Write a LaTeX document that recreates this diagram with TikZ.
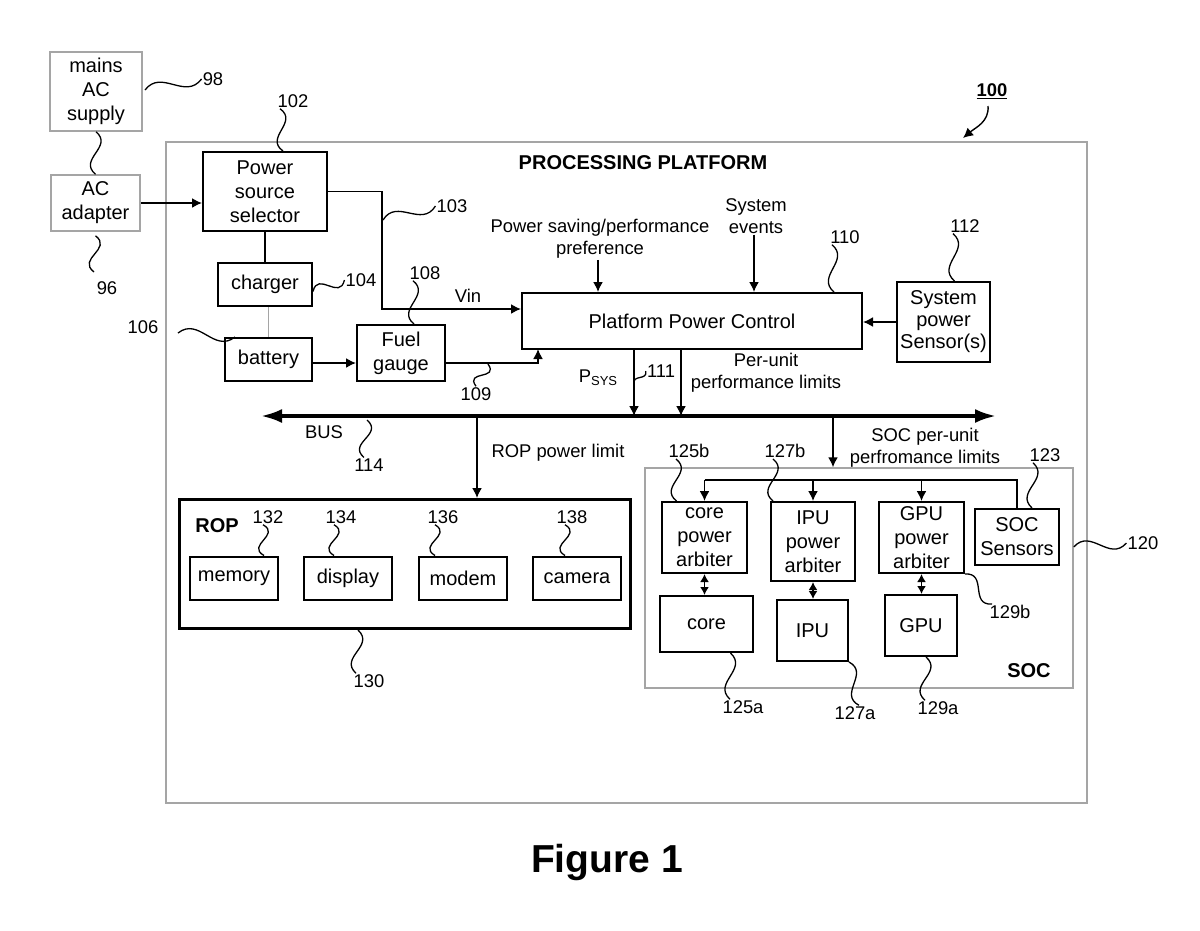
\documentclass[tikz,border=0pt]{standalone}
\usepackage{fontspec}
\setmainfont{Liberation Sans}
\usepackage{tikz}
\usetikzlibrary{arrows,arrows.meta,calc,positioning}

\newcommand{\fs}{\fontsize{18.4}{22}\selectfont}
\newcommand{\bs}{\fontsize{20}{24}\selectfont}
\definecolor{framegray}{RGB}{165,165,165}

\tikzstyle{blk} = [draw, line width=2pt, align=center, inner sep=0pt, font=\bs]
\tikzstyle{gblk} = [draw=framegray, line width=1.5pt, align=center, inner sep=0pt, font=\bs]
\tikzstyle{lbl} = [inner sep=1pt, align=center]
\tikzstyle{arr} = [line width=1.6pt, -{Latex[length=10pt,width=10pt]}]
\tikzstyle{darr} = [line width=1.6pt, {Latex[length=8pt,width=9pt]}-{Latex[length=8pt,width=9pt]}]
\tikzstyle{lead} = [line width=1.3pt]
\tikzstyle{bus} = [line width=3.5pt, {Latex[length=21pt,width=14pt]}-{Latex[length=21pt,width=14pt]}]
\tikzset{
	sz/.style 2 args={minimum width=#1pt, minimum height=#2pt},
	squig/.style={to path={.. controls ($(\tikztostart)!.35!(\tikztotarget)!#1!90:(\tikztotarget)$) and ($(\tikztostart)!.65!(\tikztotarget)!#1!-90:(\tikztotarget)$) .. (\tikztotarget)}},
	squig/.default=18pt
}

\begin{document}
\begin{tikzpicture}[x=1pt,y=-1pt,font=\fs]
				\useasboundingbox (0,0) rectangle (1200,930);
				
				% outside the platform
				\node [gblk, sz={92}{79}] (mains)   at (96,91.5) {mains\\AC\\supply};
				\node [gblk, sz={89}{56}] (adapter) at (95.5,203) {AC\\adapter};
				\node [gblk, sz={921}{661}] (platform) at (626.5,472.5) {};
				\node [font=\bs\bfseries] (title) at (643,163) {PROCESSING PLATFORM};
				
				% power path
				\node [blk, sz={124}{79}] (pss)     at (265,191.5) {Power\\source\\selector};
				\node [blk, sz={94}{43}]  (charger) at (265,284.5) {charger};
				\node [blk, sz={87}{43}]  (battery) at (268.5,359.5) {battery};
				\node [blk, sz={88}{56}]  (fuel)    at (401,353) {Fuel\\gauge};
				\node [blk, sz={340}{56}] (ppc)     at (692,321) {Platform Power Control};
				\node [blk, sz={93}{80}, font=\fontsize{20}{22}\selectfont] (sens) at (943.5,322) {System\\power\\Sensor(s)};
				
				\node [lbl] (vin)    at (468,296) {Vin};
				\node [lbl] (pref)   at (600,239) {Power saving/performance\\preference};
				\node [lbl] (events) at (756,216) {System\\events};
				\node [lbl] (psys)   at (598,378) {P\raisebox{-0.35ex}{\fontsize{13}{13}\selectfont SYS}};
				\node [lbl] (perunit) at (766,373) {Per-unit\\performance limits};
				
				\coordinate (vbend) at (382,309);
				\draw [arr] (adapter.east) -- (adapter.east -| pss.west);
				\draw [line width=1.6pt] (pss.south) -- (charger.north);
				\draw [line width=1pt, framegray] (battery.north |- charger.south) -- (battery.north);
				\draw [arr] (pss.east) -| (vbend) -- (vbend -| ppc.west);
				\draw [arr] (battery.east |- 0,363) -- (fuel.west |- 0,363);
				\draw [arr] ([yshift=-10pt]fuel.east) -| (538,349);
				\draw [arr] (pref.south -| 598,0) -- (598,0 |- ppc.north);
				\draw [arr] (events.south -| 754,0) -- (754,0 |- ppc.north);
				\draw [arr] (sens.west) -- (sens.west -| ppc.east);
				
				% bus
				\coordinate (busL) at (261,416);
				\coordinate (busR) at (996,416);
				\coordinate (b1) at (634,416);
				\coordinate (b2) at (681,416);
				\coordinate (b3) at (477,416);
				\coordinate (b4) at (833,416);
				\draw [bus] (busL) -- (busR);
				\draw [arr] (b1 |- ppc.south) -- (b1);
				\draw [arr] (b2 |- ppc.south) -- (b2);
				\node [lbl] (busl)  at (324,432) {BUS};
				\node [lbl] (roppl) at (558,453) {ROP power limit};
				\node [lbl] (socpl) at (925,448) {SOC per-unit\\perfromance limits};
				
				% ROP
				\node [blk, line width=3pt, sz={451}{129}] (rop) at (405,564) {};
				\node [font=\bs\bfseries] (ropl) at (217,526) {ROP};
				\node [blk, sz={88}{43}] (memory)  at (234,578) {memory};
				\node [blk, sz={88}{43}] (display) at (348,578) {display};
				\node [blk, sz={88}{43}] (modem)   at (463,578) {modem};
				\node [blk, sz={88}{43}] (camera)  at (577,578) {camera};
				\draw [arr] (b3) -- (b3 |- rop.north);
				
				% SOC
				\node [gblk, sz={428}{220}] (soc) at (859,578) {};
				\node [font=\bs\bfseries] (socl) at (1029,671) {SOC};
				\begin{scope}[every node/.append style={font=\fontsize{20}{22}\selectfont}]
				\node [blk, sz={85}{71}] (cpa)     at (704.5,537.5) {core\\power\\arbiter};
				\node [blk, sz={84}{79}] (ipa)     at (813,541.5) {IPU\\power\\arbiter};
				\node [blk, sz={85}{71}] (gpa)     at (921.5,537.5) {GPU\\power\\arbiter};
				\node [blk, sz={84}{56}] (socsens) at (1017,537) {SOC\\Sensors};
				\end{scope}
				\node [blk, sz={93}{56}] (core)    at (706.5,624) {core};
				\node [blk, sz={71}{61}] (ipu)     at (812.5,630.5) {IPU};
				\node [blk, sz={72}{61}] (gpu)     at (921,625.5) {GPU};
				\draw [arr] (b4) -- (b4 |- soc.north);
				\coordinate (sline) at (704.5,480);
				\draw [line width=1.6pt] (sline) -| (socsens.north);
				\draw [arr] (sline) -- (cpa.north);
				\draw [arr] (ipa.north |- sline) -- (ipa.north);
				\draw [arr] (gpa.north |- sline) -- (gpa.north);
				\draw [darr] (cpa.south) -- (cpa.south |- core.north);
				\draw [darr] (ipa.south) -- (ipa.south |- ipu.north);
				\draw [darr] (gpa.south) -- (gpa.south |- gpu.north);
				
				% reference numerals
				\node [lbl] (l98)   at (213,79)  {98};
				\node [lbl] (l96)   at (107,288) {96};
				\node [lbl] (l102)  at (293,101) {102};
				\node [lbl] (l103)  at (452,206) {103};
				\node [lbl] (l104)  at (361,280) {104};
				\node [lbl] (l106)  at (143,327) {106};
				\node [lbl] (l108)  at (425,273) {108};
				\node [lbl] (l109)  at (476,394) {109};
				\node [lbl] (l110)  at (845,237) {110};
				\node [lbl] (l111)  at (661,371) {111};
				\node [lbl] (l112)  at (965,226) {112};
				\node [lbl] (l114)  at (369,465) {114};
				\node [lbl] (l120)  at (1143,543) {120};
				\node [lbl] (l123)  at (1045,455) {123};
				\node [lbl] (l125b) at (689,451) {125b};
				\node [lbl] (l127b) at (785,451) {127b};
				\node [lbl] (l129b) at (1010,612) {129b};
				\node [lbl] (l125a) at (743,707) {125a};
				\node [lbl] (l127a) at (855,713) {127a};
				\node [lbl] (l129a) at (938,708) {129a};
				\node [lbl] (l130)  at (369,681) {130};
				\node [lbl] (l132)  at (268,517) {132};
				\node [lbl] (l134)  at (341,517) {134};
				\node [lbl] (l136)  at (443,517) {136};
				\node [lbl] (l138)  at (572,517) {138};
				\node [lbl, font=\fs\bfseries] (l100) at (992,91) {\underline{100}};
				\coordinate (p100) at (963,138);
				\draw [arr, line width=1.4pt] (988,106) to[out=-85,in=40] (p100);
				
				% lead lines
				\draw [lead] (145,90) to[squig] (l98.west);
				\draw [lead] (mains.south) to[squig] (adapter.north);
				\draw [lead] ([yshift=-4pt]adapter.south) to[squig] (94,272);
				\draw [lead] ([xshift=-13pt]l102.south) to[squig] ([xshift=18pt]pss.north);
				\draw [lead] (383,220) to[squig] (l103.west);
				\draw [lead] ([yshift=-7pt]charger.east) to[squig] (l104.west);
				\draw [lead] (178,333) to[squig] ([xshift=11pt]battery.north west);
				\draw [lead] ([xshift=-12pt]l108.south) to[squig] ([xshift=13pt]fuel.north);
				\draw [lead] (488,364) to[squig] (l109.north);
				\draw [lead] (634,384) to[squig=8pt] (l111.west);
				\draw [lead] ([xshift=-13pt]l110.south) to[squig] ([xshift=142pt]ppc.north);
				\draw [lead] ([xshift=-12pt]l112.south) to[squig] ([xshift=11pt]sens.north);
				\draw [lead] (367,420) to[squig] ([xshift=-5pt]l114.north);
				\draw [lead] ([yshift=31pt]soc.east) to[squig] (l120.west);
				\draw [lead] ([xshift=-12pt]l123.south) to[squig] ([xshift=15pt]socsens.north);
				\draw [lead] ([xshift=-13pt]l125b.south) to[squig] ([xshift=-28pt]cpa.north);
				\draw [lead] ([xshift=-12pt]l127b.south) to[squig] ([xshift=-40pt]ipa.north);
				\draw [lead] (gpa.south east) to[squig] ([xshift=-18pt]l129b.north);
				\draw [lead] ([xshift=24pt]core.south) to[squig] ([xshift=-13pt]l125a.north);
				\draw [lead] (ipu.south east) to[squig] ([xshift=4pt]l127a.north);
				\draw [lead] ([xshift=5pt]gpu.south) to[squig] ([xshift=-13pt]l129a.north);
				\draw [lead] ([xshift=-47pt]rop.south) to[squig] ([xshift=-13pt]l130.north);
				\draw [lead] ([xshift=-5pt]l132.south) to[squig] ([xshift=30pt]memory.north);
				\draw [lead] ([xshift=-7pt]l134.south) to[squig] ([xshift=-14pt]display.north);
				\draw [lead] ([xshift=-8pt]l136.south) to[squig] ([xshift=-28pt]modem.north);
				\draw [lead] ([xshift=-7pt]l138.south) to[squig] ([xshift=-12pt]camera.north);
				
				\node [font=\fontsize{39}{39}\selectfont\bfseries] (fig) at (607,862) {Figure 1};
				
\end{tikzpicture}
\end{document}
